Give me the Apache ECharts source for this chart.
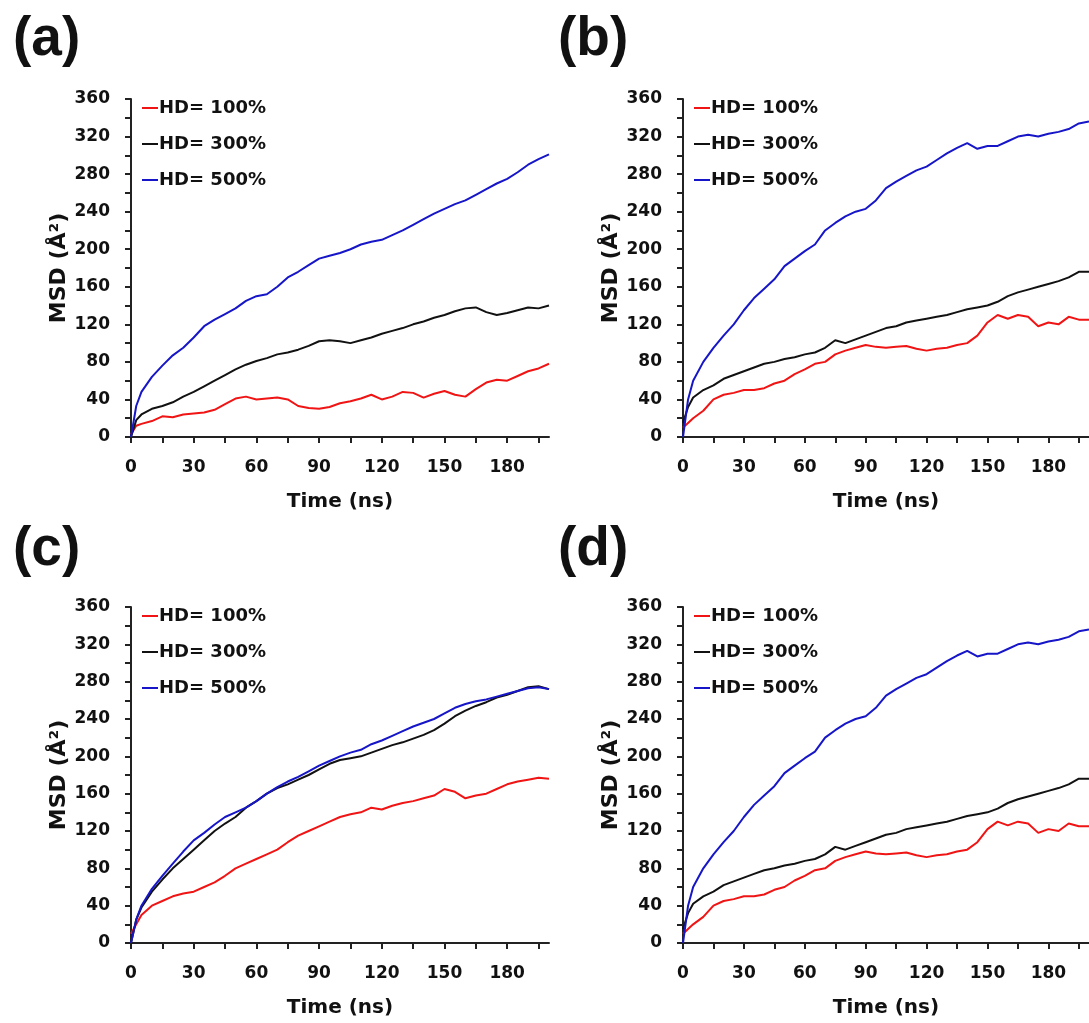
<!DOCTYPE html>
<html><head><meta charset="utf-8">
<script src="https://cdn.jsdelivr.net/npm/echarts@6/dist/echarts.min.js"></script>
<style>html,body{margin:0;padding:0;background:#fff}#c{width:1089px;height:1023px}</style>
</head><body><div id="c"></div>
<script>
const time = [0,2.5,5,10,15,20,25,30,35,40,45,50,55,60,65,70,75,80,85,90,95,100,105,110,115,120,125,130,135,140,145,150,155,160,165,170,175,180,185,190,195,200];
const seriesNames = ['HD= 100%','HD= 300%','HD= 500%'];
const panelLabels = ['(a)','(b)','(c)','(d)'];
const xTickValues = [0,15,30,45,60,75,90,105,120,135,150,165,180,195];
const xLabelValues = [0,30,60,90,120,150,180];
const yTickValues = [0,20,40,60,80,100,120,140,160,180,200,220,240,260,280,300,320,340,360];
const yLabelValues = [0,40,80,120,160,200,240,280,320,360];

const a100 = [3,12,14,17,22,21,24,25,26,29,35,41,43,40,41,42,40,33,31,30,32,36,38,41,45,40,43,48,47,42,46,49,45,43,51,58,61,60,65,70,73,78];
const a300 = [0,18,24,30,33,37,43,48,54,60,66,72,77,81,84,88,90,93,97,102,103,102,100,103,106,110,113,116,120,123,127,130,134,137,138,133,130,132,135,138,137,140];
const a500 = [0,33,48,64,76,87,95,106,118,125,131,137,145,150,152,160,170,176,183,190,193,196,200,205,208,210,215,220,226,232,238,243,248,252,258,264,270,275,282,290,296,301];

const b100 = [10,15,20,28,40,45,47,50,50,52,57,60,67,72,78,80,88,92,95,98,96,95,96,97,94,92,94,95,98,100,108,122,130,126,130,128,118,122,120,128,125,125];
const b300 = [15,32,42,50,55,62,66,70,74,78,80,83,85,88,90,95,103,100,104,108,112,116,118,122,124,126,128,130,133,136,138,140,144,150,154,157,160,163,166,170,176,176];
const b500 = [0,40,60,80,95,108,120,135,148,158,168,182,190,198,205,220,228,235,240,243,252,265,272,278,284,288,295,302,308,313,307,310,310,315,320,322,320,323,325,328,334,336];

const c100 = [10,20,30,40,45,50,53,55,60,65,72,80,85,90,95,100,108,115,120,125,130,135,138,140,145,143,147,150,152,155,158,165,162,155,158,160,165,170,173,175,177,176];
const c300 = [0,25,38,55,68,80,90,100,110,120,128,135,145,152,160,166,170,175,180,186,192,196,198,200,204,208,212,215,219,223,228,235,243,249,254,258,263,266,270,274,275,272];
const c500 = [0,25,40,58,72,85,98,110,118,127,135,140,145,152,160,167,173,178,184,190,195,200,204,207,213,217,222,227,232,236,240,246,252,256,259,261,264,267,270,273,274,272];

const d100 = b100, d300 = b300, d500 = b500;

const colors = ['#f01414','#111111','#1616c8'];
const FONT = 'DejaVu Sans';
const panels = [
  {vals:[a100,a300,a500], left:131, top:99, h:338, lab:[13,12]},
  {vals:[b100,b300,b500], left:683, top:99, h:338, lab:[558,12]},
  {vals:[c100,c300,c500], left:131, top:607, h:336, lab:[13,522]},
  {vals:[d100,d300,d500], left:683, top:607, h:336, lab:[558,522]}
];

const option = {backgroundColor:'#fff', animation:false, grid:[], xAxis:[], yAxis:[], series:[], legend:[], title:[]};
panels.forEach((p,i)=>{
  option.grid.push({left:p.left, top:p.top, width:418, height:p.h, containLabel:false});
  option.xAxis.push({type:'value', gridIndex:i, min:0, max:200, interval:15,
    name:'Time (ns)', nameLocation:'middle', nameGap:55,
    nameTextStyle:{fontFamily:FONT, fontWeight:'bold', fontSize:20, color:'#111'},
    axisLine:{lineStyle:{color:'#222', width:2}},
    axisTick:{show:true, length:6, customValues:xTickValues, lineStyle:{color:'#222', width:2}},
    axisLabel:{customValues:xLabelValues, margin:22, fontFamily:FONT, fontWeight:'bold', fontSize:17, color:'#111'},
    splitLine:{show:false}});
  option.yAxis.push({type:'value', gridIndex:i, min:0, max:360, interval:20,
    name:'MSD (Å²)', nameLocation:'middle', nameGap:56, nameRotate:90,
    nameTextStyle:{fontFamily:FONT, fontWeight:'bold', fontSize:22, color:'#111'},
    axisLine:{show:true, lineStyle:{color:'#222', width:2}},
    axisTick:{show:true, length:6, customValues:yTickValues, lineStyle:{color:'#222', width:2}},
    axisLabel:{customValues:yLabelValues, margin:21, fontFamily:FONT, fontWeight:'bold', fontSize:17, color:'#111'},
    splitLine:{show:false}});
  p.vals.forEach((arr,k)=>{
    option.series.push({type:'line', name:seriesNames[k], xAxisIndex:i, yAxisIndex:i,
      data: time.map((t,j)=>[t, arr[j]]), showSymbol:false, symbol:'none',
      lineStyle:{color:colors[k], width:2}, itemStyle:{color:colors[k]}, clip:true});
  });
  option.legend.push({data:seriesNames.map((n,k)=>({name:n, itemStyle:{color:colors[k]}})),
    orient:'vertical', left:p.left+11, top:p.top, itemWidth:16, itemHeight:2, itemGap:18,
    icon:'rect', padding:0, selectedMode:false,
    textStyle:{fontFamily:FONT, fontWeight:'bold', fontSize:18, color:'#111', padding:[0,0,0,-4]}});
  option.title.push({text:panelLabels[i], left:p.lab[0], top:p.lab[1], padding:0,
    textStyle:{fontFamily:'Liberation Sans', fontWeight:'bold', fontSize:55, color:'#111'}});
});
const chart = echarts.init(document.getElementById('c'), null, {renderer:'canvas'});
chart.setOption(option);
</script></body></html>
